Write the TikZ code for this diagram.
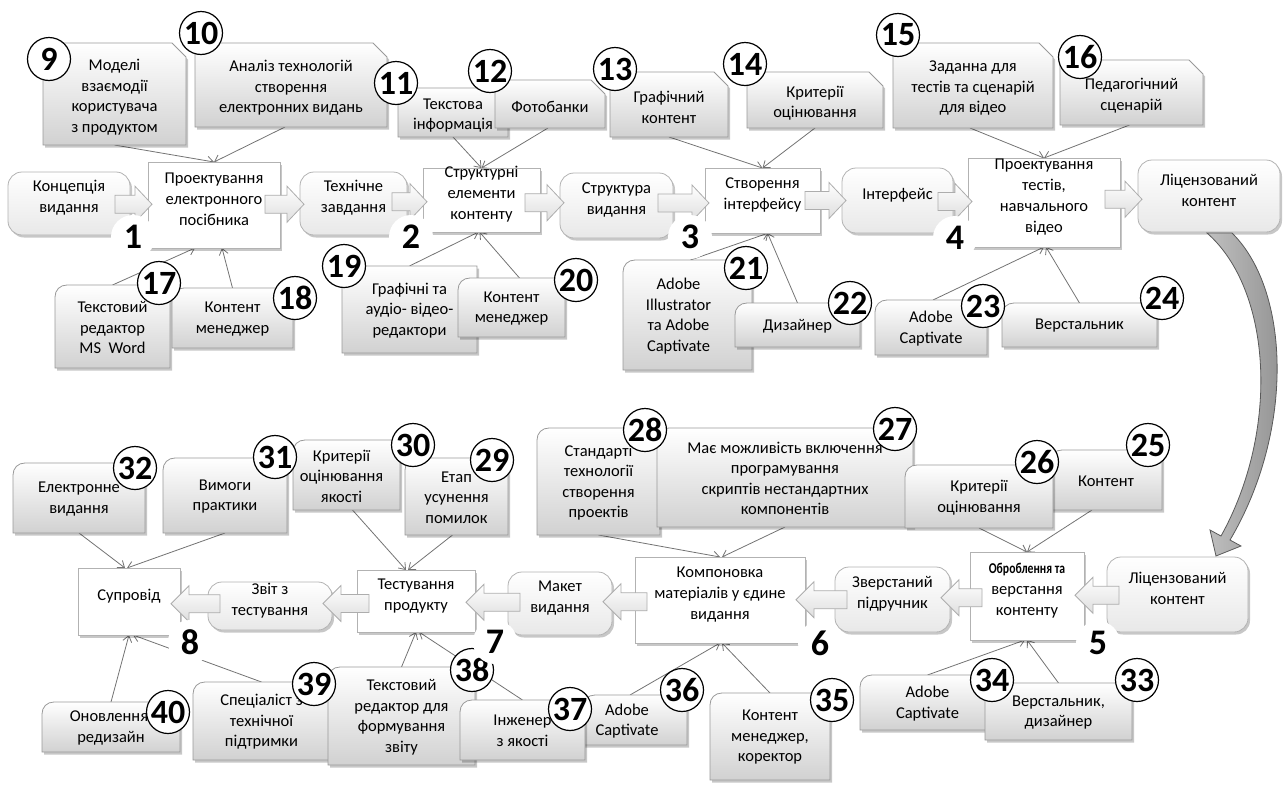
\documentclass[tikz,border=0pt]{standalone}
\usepackage{fontspec}
\setmainfont{Carlito}
\usetikzlibrary{shadows,fit,calc,arrows.meta,shapes.geometric}
\pgfdeclarelayer{background}
\pgfsetlayers{background,main}
\tikzset{
 every node/.style={font=\fontsize{16.5}{21}\selectfont},
 boxtext/.style={align=center, inner sep=0pt, font=\fontsize{16.5}{20.5}\selectfont},
 shad/.style={drop shadow={shadow xshift=2pt,shadow yshift=-2.5pt,opacity=0.22,fill=black}},
 callfill/.style={top color=white, bottom color=black!18, draw=black!40, line width=0.8pt, shad},
 mainrect/.style={draw=black!30, fill=white, line width=0.8pt, inner sep=0pt, outer sep=0pt, align=center, shad},
 mainrnd/.style={mainrect, rounded corners=14pt, top color=white, bottom color=black!9},
 numc/.style={circle, draw=black, line width=1.2pt, fill=white, minimum size=43pt, inner sep=0pt, font=\fontsize{34}{34}\bfseries\selectfont},
 stepn/.style={circle, fill=white, minimum size=44pt, inner sep=0pt, font=\fontsize{36}{36}\bfseries\selectfont},
 conn/.style={draw=black!55, line width=0.8pt, -{Straight Barb[length=6pt,width=9pt]}},
 barrow/.style={top color=white, bottom color=black!13, draw=black!32, line width=0.8pt},
 bigarrow/.style={left color=black!25, right color=black!45, draw=black!65, line width=0.8pt},
}
\newcommand\cutbox[7][0]{%
  \path[callfill] (#3,#4) -- (#5-14,#4) -- (#5,#4+14) -- (#5,#6) -- (#3,#6) -- cycle;
  \node[fit={(#3,#4) (#5,#6)}, inner sep=0pt, outer sep=0pt] (#2) {};
  \node[boxtext] (#2t) at ([xshift=#1pt,yshift=-3pt]#2.center) {#7};
}
\newcommand\rndbox[7][0]{%
  \path[callfill] (#3,#4+12) .. controls (#3,#4+5) and (#3+5,#4) .. (#3+12,#4) -- (#5,#4) -- (#5,#6) -- (#3,#6) -- cycle;
  \node[fit={(#3,#4) (#5,#6)}, inner sep=0pt, outer sep=0pt] (#2) {};
  \node[boxtext] (#2t) at ([xshift=#1pt,yshift=-1pt]#2.center) {#7};
}
\newcommand\rarr[2]{%
  \path[barrow] let \p1=(#1.east), \p2=(#2.west), \n1={(\y1+\y2)/2} in
   (\x1-15pt,\n1+9pt) -- (\x2-13pt,\n1+9pt) -- (\x2-13pt,\n1+18pt) -- (\x2+4pt,\n1) --
   (\x2-13pt,\n1-18pt) -- (\x2-13pt,\n1-9pt) -- (\x1-15pt,\n1-9pt) -- cycle;
}
\newcommand\larr[2]{%
  \path[barrow] let \p1=(#1.west), \p2=(#2.east), \n1={(\y1+\y2)/2} in
   (\x1+12pt,\n1+9pt) -- (\x2+9pt,\n1+9pt) -- (\x2+9pt,\n1+18pt) -- (\x2-9pt,\n1) --
   (\x2+9pt,\n1-18pt) -- (\x2+9pt,\n1-9pt) -- (\x1+12pt,\n1-9pt) -- cycle;
}
\begin{document}
\begin{tikzpicture}[x=1pt,y=-1pt]
\useasboundingbox (0,0) rectangle (1285,785);
% ---------- top flow ----------
\node[mainrnd, fit={(8,172) (130,235)}] (A1) {Концепція\\видання};
\node[mainrect, fit={(148,162) (280,248)}] (A2) {Проектування\\електронного\\посібника};
\node[mainrnd, fit={(300,172) (407,235)}] (A3) {Технічне\\завдання};
\node[mainrect, fit={(423,168) (540,232)}] (A4) {Структурні\\елементи\\контенту};
\node[mainrnd, fit={(560,173) (673,238)}] (A5) {Структура\\видання};
\node[mainrect, fit={(705,168) (820,233)}] (A6) {Створення\\інтерфейсу};
\node[mainrnd, fit={(842,168) (953,233)}] (A7) {Інтерфейс};
\node[mainrect, fit={(968,158) (1120,247)}] (A8) {Проектування\\тестів,\\навчального\\відео};
\node[mainrnd, fit={(1138,160) (1280,232)}] (A9) {Ліцензований\\контент};
% ---------- bottom flow ----------
\node[mainrnd, fit={(1107,557) (1248,632)}] (B1) {Ліцензований\\контент};
\node[mainrect, fit={(970,552) (1084,640)}] (B2) {\scalebox{0.78}[1]{\fontsize{15}{21}\selectfont\bfseries Оброблення та}\\верстання\\контенту};
\node[mainrnd, fit={(835,567) (950,632)}] (B3) {Зверстаний\\підручник};
\node[mainrect, fit={(635,557) (805,643)}] (B4) {Компоновка\\матеріалів у єдине\\видання};
\node[mainrnd, fit={(508,572) (612,635)}] (B5) {Макет\\видання};
\node[mainrect, fit={(357,570) (475,632)}] (B6) {Тестування\\продукту};
\node[mainrnd, fit={(208,582) (332,630)}] (B7) {Звіт з\\тестування};
\node[mainrect, fit={(78,568) (180,635)}] (B8) {Супровід};
% ---------- block arrows ----------
\rarr{A1}{A2} \rarr{A2}{A3} \rarr{A3}{A4} \rarr{A4}{A5}
\rarr{A5}{A6} \rarr{A6}{A7} \rarr{A7}{A8} \rarr{A8}{A9}
\larr{B1}{B2} \larr{B2}{B3} \larr{B3}{B4} \larr{B4}{B5}
\larr{B5}{B6} \larr{B6}{B7} \larr{B7}{B8}
% ---------- curved arrow ----------
\path[bigarrow] (1207,233) .. controls (1272,290) and (1280,430) .. (1221,536)
  -- (1210,530) -- (1216,556) -- (1241,546) -- (1230,540)
  .. controls (1295,430) and (1290,290) .. (1232,233) -- cycle;
% ---------- callouts, top ----------
\cutbox{n9}{43}{43}{186}{145}{Моделі\\взаємодії\\користувача\\з продуктом}
\cutbox{n10}{195}{43}{387}{127}{Аналіз технологій\\створення\\електронних видань}
\cutbox{n11}{398}{88}{508}{137}{Текстова\\інформація}
\cutbox{n12}{495}{80}{605}{128}{Фотобанки}
\cutbox{n13}{610}{72}{728}{137}{Графічний\\контент}
\cutbox{n14}{747}{72}{883}{128}{Критерії\\оцінювання}
\cutbox{n15}{893}{43}{1053}{128}{Заданна для\\тестів та сценарій\\для відео}
\cutbox{n16}{1060}{60}{1203}{125}{Педагогічний\\сценарій}
\rndbox{n17}{55}{285}{170}{368}{Текстовий\\редактор\\MS~ Word}
\rndbox{n18}{172}{288}{293}{348}{Контент\\менеджер}
\rndbox{n19}{342}{266}{477}{353}{Графічні та\\аудіо- відео-\\редактори}
\rndbox{n20}{458}{278}{565}{337}{Контент\\менеджер}
\rndbox[-9]{n21}{623}{260}{752}{370}{Adobe\\Illustrator\\та Adobe\\Captivate}
\rndbox{n22}{735}{303}{860}{347}{Дизайнер}
\rndbox{n23}{875}{300}{987}{355}{Adobe\\Captivate}
\rndbox{n24}{1002}{303}{1157}{347}{Верстальник}
% ---------- callouts, bottom ----------
\rndbox{n32}{13}{463}{145}{533}{Електронне\\видання}
\rndbox{n31}{163}{458}{287}{533}{Вимоги\\практики}
\rndbox[-5]{n30}{293}{440}{400}{510}{Критерії\\оцінювання\\якості}
\rndbox{n29}{405}{458}{508}{535}{Етап\\усунення\\помилок}
\rndbox{n28}{537}{428}{660}{535}{Стандарті\\технології\\створення\\проектів}
\rndbox{n27}{657}{428}{913}{527}{Має можливість включення\\програмування\\скриптів нестандартних\\компонентів}
\rndbox{n25}{1050}{450}{1162}{510}{Контент}
\rndbox{n26}{905}{465}{1053}{528}{Критерії\\оцінювання}
\rndbox{n40}{42}{702}{180}{752}{Оновлення,\\редизайн}
\rndbox{n39}{193}{682}{330}{760}{Спеціаліст з\\технічної\\підтримки}
\rndbox{n38}{328}{667}{475}{765}{Текстовий\\редактор для\\формування\\звіту}
\rndbox[-8]{n36}{583}{695}{687}{745}{Adobe\\Captivate}
\rndbox{n37}{460}{700}{585}{760}{Інженер\\з якості}
\rndbox{n35}{710}{693}{830}{780}{Контент\\менеджер,\\коректор}
\rndbox{n34}{860}{675}{995}{730}{Adobe\\Captivate}
\rndbox{n33}{985}{683}{1132}{740}{Верстальник,\\дизайнер}
% ---------- numbered circles ----------
\foreach \k/\cx/\cy in {9/49/59,10/201/33,11/396/83,12/490/71,13/615/69,14/745/64,15/898/35,16/1080/57,
  17/159/283,18/295/298,19/344/266,20/576/280,21/746/268,22/850/303,23/983/306,24/1162/298,
  25/1148/445,26/1037/462,27/895/429,28/645/430,29/492/460,30/413/445,31/275/457,32/135/468,
  33/1137/680,34/992/680,35/832/700,36/682/690,37/570/709,38/472/670,39/314/684,40/168/712}
  {\node[numc] (c\k) at (\cx,\cy) {\k};}
% ---------- step numbers ----------
\foreach \k/\cx/\cy in {1/133/237,2/411/237,3/690/237,4/955/238,5/1098/643,6/820/643,7/495/642,8/190/642}
  {\node[stepn] (s\k) at (\cx,\cy) {\k};}
% ---------- connectors ----------
\begin{pgfonlayer}{background}
\draw[conn] (n9.south) -- (A2.north);
\draw[conn] ([xshift=-6pt]n10.south) -- (A2.north);
\draw[conn] (n11.south) -- (A4.north);
\draw[conn] ([xshift=-2pt]n12.south) -- (A4.north);
\draw[conn] (n13.south) -- (A6.north);
\draw[conn] (n14.south) -- (A6.north);
\draw[conn] ([xshift=-3pt]n15.south) -- (A8.north);
\draw[conn] ([xshift=-2pt]n16.south) -- (A8.north);
\draw[conn] (n17.north) -- ([xshift=-19pt]A2.south);
\draw[conn] (n18.north) -- ([xshift=8pt]A2.south);
\draw[conn] (n19.north) -- ([xshift=-3pt]A4.south);
\draw[conn] ([xshift=8pt]n20.north) -- ([xshift=-2pt]A4.south);
\draw[conn] ([xshift=3pt]n21.north) -- ([xshift=6pt]A6.south);
\draw[conn] (n22.north) -- ([xshift=5pt]A6.south);
\draw[conn] ([xshift=2pt]n23.north) -- (A8.south);
\draw[conn] (n24.north) -- ([xshift=2pt]A8.south);
\draw[conn] (n32.south) -- ([xshift=-4pt]B8.north);
\draw[conn] (n31.south) -- ([xshift=-2pt]B8.north);
\draw[conn] ([xshift=6pt]n30.south) -- ([xshift=-10pt]B6.north);
\draw[conn] ([xshift=-4pt]n29.south) -- ([xshift=-8pt]B6.north);
\draw[conn] (n28.south) -- (B4.north);
\draw[conn] (n27.south) -- ([xshift=2pt]B4.north);
\draw[conn] (n26.south) -- (B2.north);
\draw[conn] ([xshift=-14pt]n25.south) -- (B2.north);
\draw[conn] (n40.north) -- (B8.south);
\draw[conn] (n39.north) -- ([xshift=4pt]B8.south);
\draw[conn] (n38.north) -- (B6.south);
\draw[conn] (n37.north) -- ([xshift=3pt]B6.south);
\draw[conn] ([xshift=-5pt]n36.north) -- (B4.south);
\draw[conn] (n35.north) -- ([xshift=2pt]B4.south);
\draw[conn] (n34.north) -- ([xshift=-2pt]B2.south);
\draw[conn] (n33.north) -- (B2.south);
\end{pgfonlayer}
\end{tikzpicture}
\end{document}
